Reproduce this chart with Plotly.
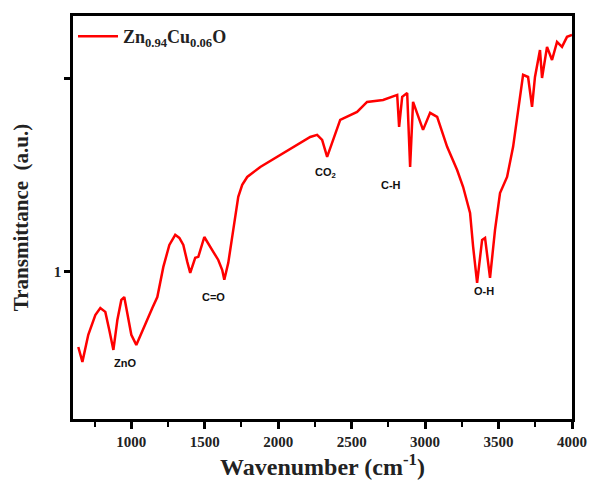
import plotly.graph_objects as go

wavenumber = [639, 667, 707, 755, 789, 823, 850, 878, 905, 932, 952, 973, 1000, 1034, 1068,
              1109, 1143, 1177, 1218, 1259, 1299, 1327, 1354, 1381, 1401, 1435, 1456, 1497,
              1524, 1558, 1592, 1619, 1633, 1660, 1694, 1728, 1755, 1789, 1878, 2034, 2218,
              2265, 2299, 2333, 2367, 2422, 2537, 2605, 2714, 2810, 2823, 2844, 2878, 2898,
              2918, 2952, 2986, 3034, 3082, 3150, 3218, 3259, 3306, 3327, 3354, 3388, 3408,
              3442, 3476, 3510, 3558, 3599, 3633, 3646, 3667, 3701, 3728, 3748, 3782, 3796,
              3830, 3864, 3898, 3932, 3966, 4000]
transmittance = [0.611, 0.534, 0.674, 0.777, 0.813, 0.793, 0.699, 0.596, 0.751, 0.855, 0.870,
                 0.777, 0.674, 0.622, 0.684, 0.751, 0.813, 0.870, 1.026, 1.140, 1.192, 1.176,
                 1.140, 1.052, 0.995, 1.073, 1.078, 1.181, 1.150, 1.104, 1.062, 1.010, 0.959,
                 1.047, 1.218, 1.389, 1.451, 1.492, 1.544, 1.617, 1.699, 1.710, 1.684, 1.596,
                 1.668, 1.788, 1.829, 1.881, 1.891, 1.917, 1.751, 1.907, 1.927, 1.544, 1.881,
                 1.813, 1.736, 1.824, 1.803, 1.648, 1.528, 1.440, 1.306, 1.130, 0.943, 1.166,
                 1.176, 0.969, 1.218, 1.409, 1.492, 1.648, 1.824, 1.907, 2.021, 2.010, 1.855,
                 2.010, 2.150, 2.005, 2.166, 2.098, 2.192, 2.166, 2.218, 2.228]

series_name = "Zn<sub>0.94</sub>Cu<sub>0.06</sub>O"

peak_labels = ["ZnO", "C=O", "CO<sub>2</sub>", "C-H", "O-H"]
peak_x = [955, 1560, 2325, 2765, 3400]
peak_y = [0.53, 0.87, 1.51, 1.45, 0.90]

x_tickvals = [1000, 1500, 2000, 2500, 3000, 3500, 4000]
y_tickvals = [1, 2]
y_ticktext = ["1", ""]

fig = go.Figure()
fig.add_trace(go.Scatter(x=wavenumber, y=transmittance, mode="lines", name=series_name,
                         line=dict(color="#ff0000", width=2.5)))

for lab, px, py in zip(peak_labels, peak_x, peak_y):
    fig.add_annotation(x=px, y=py, text=lab, showarrow=False,
                       font=dict(family="Liberation Sans, Arial", size=11, color="#111",
                                 weight="bold"))

serif = "Liberation Serif, Times New Roman, serif"
fig.update_layout(
    width=595, height=490,
    margin=dict(l=73, r=23, t=16, b=71),
    paper_bgcolor="white", plot_bgcolor="white",
    showlegend=True,
    legend=dict(x=0.0, y=0.995, xanchor="left", yanchor="top", bgcolor="rgba(0,0,0,0)",
                font=dict(family=serif, size=18, color="#222", weight="bold"), itemwidth=40,
                borderwidth=0),
    xaxis=dict(range=[603, 4000], tickvals=x_tickvals, ticks="outside", ticklen=7,
               tickwidth=2.5, tickcolor="black", showline=True, linewidth=2.5,
               linecolor="black", mirror=True, automargin=False,
               showgrid=False, zeroline=False,
               minor=dict(ticks="outside", ticklen=5, tickwidth=2, tickcolor="black",
                          dtick=250, tick0=750, showgrid=False),
               tickfont=dict(family=serif, size=15, color="#222", weight="bold"),
               title=dict(text="<b>Wavenumber (cm<sup>-1</sup>)</b>", standoff=4,
                          font=dict(family=serif, size=24, color="#222"))),
    yaxis=dict(range=[0.238, 2.326], tickvals=y_tickvals, ticktext=y_ticktext,
               ticks="outside", ticklen=6, tickwidth=2.5, tickcolor="black",
               showline=True, linewidth=2.5, automargin=False,
               linecolor="black", mirror=True, showgrid=False, zeroline=False,
               tickfont=dict(family=serif, size=15, color="#222", weight="bold"),
               title=dict(text="<b>Transmittance  (a.u.)</b>", standoff=20,
                          font=dict(family=serif, size=21, color="#222"))),
)

fig.write_html("out.html", config={"displayModeBar": False},
               post_script="document.body.style.margin='0px';document.body.style.overflow='hidden';")
